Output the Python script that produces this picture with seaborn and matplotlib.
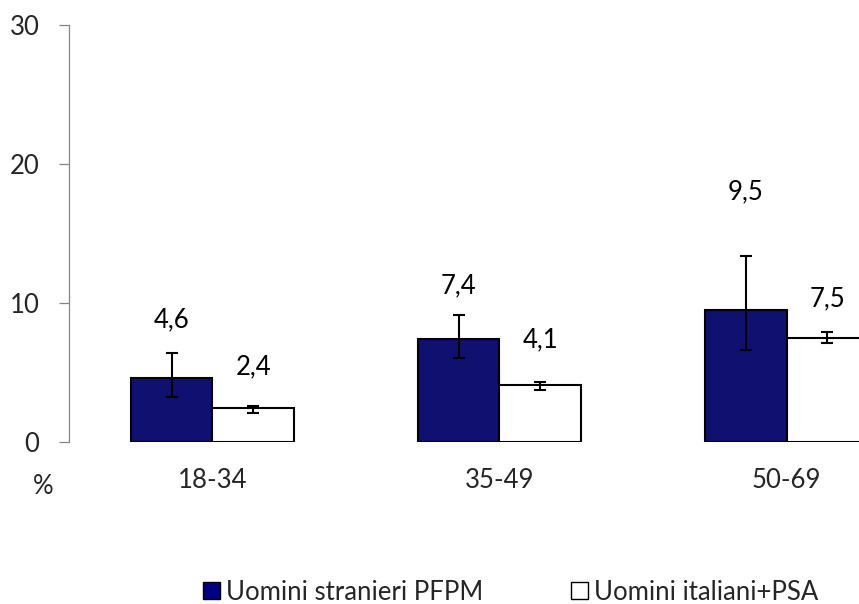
import matplotlib
matplotlib.use("Agg")
import matplotlib.pyplot as plt
import seaborn as sns
import pandas as pd
from matplotlib.patches import Patch, Rectangle

# ---- data ----
categories = ["18-34", "35-49", "50-69"]
series = ["Uomini stranieri PFPM", "Uomini italiani+PSA"]
values_stranieri = [4.6, 7.4, 9.5]
values_italiani = [2.4, 4.1, 7.5]
low_stranieri = [3.2, 6.0, 6.6]
high_stranieri = [6.4, 9.1, 13.4]
low_italiani = [2.1, 3.7, 7.1]
high_italiani = [2.6, 4.3, 7.9]
labels_stranieri = ["4,6", "7,4", "9,5"]
labels_italiani = ["2,4", "4,1", "7,5"]
y_ticks = [0, 10, 20, 30]
y_unit = "%"

# label offsets above the error bar top (style)
label_off_stranieri = [2.4, 2.1, 4.6]
label_off_italiani = [2.8, 3.0, 2.4]

colors = ["#000080", "#ffffff"]
FS = 18.5

sns.set_style("white")
plt.rcParams["font.family"] = ["Lato", "DejaVu Sans"]

df = pd.DataFrame({
    "cat": categories * 2,
    "val": values_stranieri + values_italiani,
    "series": [series[0]] * 3 + [series[1]] * 3,
})

W, H = 859, 604
fig = plt.figure(figsize=(W / 100, H / 100), dpi=100)
ax = fig.add_axes([68.7 / W, (H - 441.7) / H, 861.6 / W, 416.7 / H])

sns.barplot(data=df, x="cat", y="val", hue="series", hue_order=series,
            order=categories, palette=colors, edgecolor="black", linewidth=1.5,
            width=0.568, gap=0, errorbar=None, legend=False, ax=ax)

lows = [low_stranieri, low_italiani]
highs = [high_stranieri, high_italiani]
vals = [values_stranieri, values_italiani]
labs = [labels_stranieri, labels_italiani]
offs = [label_off_stranieri, label_off_italiani]
for bar in [p for p in ax.patches if isinstance(p, Rectangle)]:
    if bar.get_width() <= 0 or bar.get_width() > 1:
        continue
    x = bar.get_x() + bar.get_width() / 2
    i = int(round(x))
    k = 0 if x < i else 1
    v = vals[k][i]
    ax.errorbar(x, v, yerr=[[v - lows[k][i]], [highs[k][i] - v]], fmt="none",
                ecolor="black", elinewidth=1.5, capsize=4, capthick=1.5, zorder=5)
    ax.text(x, highs[k][i] + offs[k][i], labs[k][i], ha="center", va="center",
            fontsize=FS, color="black")

ax.set_xlim(-0.5, 2.5)
ax.set_ylim(0, 30)
ax.set_yticks(y_ticks)
ax.set_yticklabels([str(t) for t in y_ticks], fontsize=FS)
ax.set_xlabel("")
ax.set_ylabel("")
for s in ["top", "right", "bottom"]:
    ax.spines[s].set_visible(False)
ax.spines["left"].set_color("#868686")
ax.spines["left"].set_linewidth(0.9)
ax.tick_params(axis="y", left=True, length=7, width=0.9, color="#868686", pad=14, labelsize=FS)
ax.tick_params(axis="x", bottom=False, length=0, pad=19, labelsize=FS)

fig.text(43 / W, 1 - 486 / H, y_unit, ha="center", va="center", fontsize=FS)

handles = [Patch(facecolor=c, edgecolor="black", linewidth=1.0) for c in colors]
fig.legend(handles, series, loc="center left", bbox_to_anchor=(203 / W, 1 - 592 / H),
           ncol=2, frameon=False, fontsize=FS, handlelength=0.66, handleheight=0.66,
           handletextpad=0.25, columnspacing=3.4, borderpad=0, borderaxespad=0)

fig.savefig("out.png", dpi=100, facecolor="white")
